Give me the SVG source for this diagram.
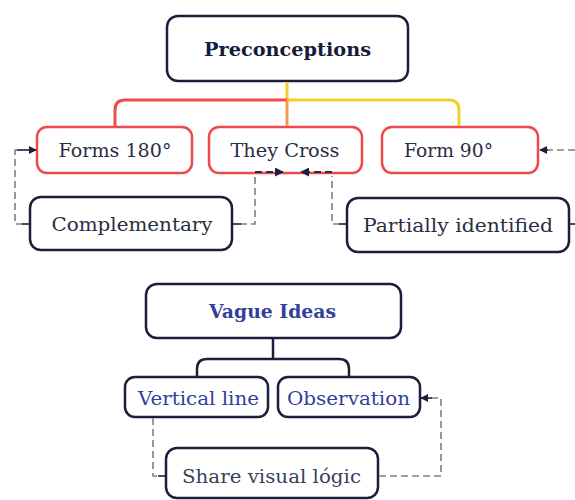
<svg xmlns="http://www.w3.org/2000/svg" width="575" height="500" viewBox="0 0 575 500">
<style>
.nav{fill:#fff;stroke:#1b1f3b;stroke-width:2.5}
.red{fill:#fff;stroke:#ec4a4c;stroke-width:2.5}
.t{font-family:"DejaVu Serif","Liberation Serif",serif;font-size:18px;fill:#2a2e42;text-anchor:middle;dominant-baseline:central}
.b{font-weight:bold;fill:#161b3c;font-size:19px}
.blue{fill:#33409a}
.dash{fill:none;stroke:#808080;stroke-width:1.6;stroke-dasharray:7 4}
.stub{fill:none;stroke:#1b1f3b;stroke-width:1.6}
.dd{fill:none;stroke:#2a2e45;stroke-width:1.8;stroke-dasharray:7 4}
</style>
<defs>
<marker id="ar" viewBox="0 0 10 10" refX="9" refY="5" markerWidth="5" markerHeight="5" orient="auto-start-reverse"><path d="M0,0 L10,5 L0,10 z" fill="#1b1f3b"/></marker>
</defs>
<g id="preconceptions"><rect class="nav" x="167" y="16" width="241" height="65" rx="11"/><text class="t b" x="287.5" y="49" textLength="167" lengthAdjust="spacingAndGlyphs">Preconceptions</text></g>
<g id="forms180"><rect class="red" x="37" y="127" width="155" height="46" rx="10"/><text class="t" x="115" y="150" textLength="113" lengthAdjust="spacingAndGlyphs">Forms 180°</text></g>
<g id="theycross"><rect class="red" x="209" y="127" width="153" height="46" rx="10"/><text class="t" x="285" y="150" textLength="109" lengthAdjust="spacingAndGlyphs">They Cross</text></g>
<g id="form90"><rect class="red" x="382" y="127" width="156" height="46" rx="10"/><text class="t" x="448.5" y="150" textLength="89" lengthAdjust="spacingAndGlyphs">Form 90°</text></g>
<g id="complementary"><rect class="nav" x="30" y="197" width="202" height="53" rx="11"/><text class="t" x="132" y="224" textLength="161" lengthAdjust="spacingAndGlyphs">Complementary</text></g>
<g id="partially"><rect class="nav" x="347" y="198" width="222" height="54" rx="11"/><text class="t" x="458" y="225" textLength="190" lengthAdjust="spacingAndGlyphs">Partially identified</text></g>
<g id="vague"><rect class="nav" x="146" y="284" width="255" height="54" rx="11"/><text class="t b blue" x="272.5" y="311" textLength="127" lengthAdjust="spacingAndGlyphs">Vague Ideas</text></g>
<g id="vertical"><rect class="nav" x="125" y="377" width="143" height="40" rx="10"/><text class="t blue" x="198.5" y="398" textLength="121" lengthAdjust="spacingAndGlyphs">Vertical line</text></g>
<g id="observation"><rect class="nav" x="278" y="377" width="142" height="40" rx="10"/><text class="t blue" x="348.5" y="398" textLength="123" lengthAdjust="spacingAndGlyphs">Observation</text></g>
<g id="share"><rect class="nav" x="166" y="448" width="212" height="50" rx="11"/><text class="t" x="271.5" y="476" style="fill:#3a3f5c" textLength="179" lengthAdjust="spacingAndGlyphs">Share visual lógic</text></g>
<g id="connectors">
<path d="M287,82 V100" fill="none" stroke="#f5cd2e" stroke-width="3"/>
<path d="M287,100 H449 Q459,100 459,110 V126" fill="none" stroke="#f5cd2e" stroke-width="3"/>
<path d="M287,100 H125 Q115,100 115,110 V126" fill="none" stroke="#ef4b4b" stroke-width="3"/>
<path d="M287,100 V126" fill="none" stroke="#f39a55" stroke-width="3"/>
<path d="M273,339 V359" fill="none" stroke="#1b1f3b" stroke-width="2.5"/>
<path d="M273,359 H207 Q197,359 197,369 V376 M273,359 H339 Q349,359 349,369 V376" fill="none" stroke="#1b1f3b" stroke-width="2.5"/>
<path class="dash" d="M23,224 H15 V150 H22"/>
<path class="stub" d="M29,224 H22"/>
<path class="stub" d="M17,150 H36" marker-end="url(#ar)"/>
<path class="dash" d="M240,224 H255 V176"/>
<path class="stub" d="M233,224 H241"/>
<path class="dd" d="M255,172 H283" marker-end="url(#ar)"/>
<path class="dash" d="M340,224 H332 V176"/>
<path class="stub" d="M346,224 H339"/>
<path class="dd" d="M332,172 H301" marker-end="url(#ar)"/>
<path class="stub" d="M570,224 H575"/>
<path class="dash" d="M575,150 H546"/>
<path class="stub" d="M548,150 H540" marker-end="url(#ar)"/>
<path class="dash" d="M153,418 V476 H158"/>
<path class="stub" d="M158,476 H165"/>
<path class="dash" d="M379,476 H441 V398 H430"/>
<path class="stub" d="M432,398 H421" marker-end="url(#ar)"/>
</g>
</svg>
